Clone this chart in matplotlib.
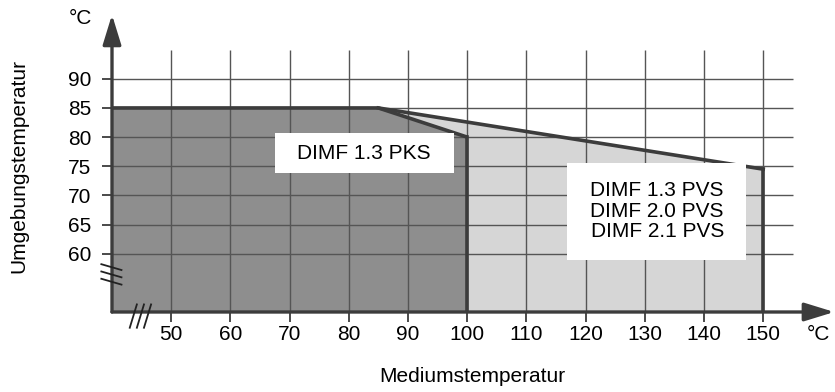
import matplotlib
matplotlib.use("Agg")
import matplotlib.pyplot as plt
from matplotlib.patches import Rectangle

plt.rcParams['font.family'] = ['Liberation Sans', 'DejaVu Sans']
plt.rcParams['font.size'] = 15

# operating limits (medium temp -> ambient temp)
pks_x = [40, 85, 100]
pks_y = [85, 85, 80]
pvs_x = [85, 150]
pvs_y = [85, 74.5]

x_ticks = [50, 60, 70, 80, 90, 100, 110, 120, 130, 140, 150]
y_ticks = [60, 65, 70, 75, 80, 85, 90]

pks_label = "DIMF 1.3 PKS"
pvs_label = "DIMF 1.3 PVS\nDIMF 2.0 PVS\nDIMF 2.1 PVS"

W, H = 835, 392
fig = plt.figure(figsize=(W / 100, H / 100), dpi=100)
# 40 -> x=112 px, 5.92 px/unit ; 50 -> y=312 px, 5.83 px/unit
x0, x1 = 40, 162
y0, y1 = 50, 101
ax = fig.add_axes([112 / W, (H - 312) / H, (x1 - x0) * 5.92 / W, (y1 - y0) * 5.83 / H])
ax.set_xlim(x0, x1)
ax.set_ylim(y0, y1)
for s in ax.spines.values():
    s.set_visible(False)

dark = '#8e8e8e'
light = '#d6d6d6'
line_c = '#3c3c3c'

# filled areas
ax.fill_between(pvs_x, pvs_y, y0, color=light, lw=0, zorder=1)
ax.fill_between(pks_x, pks_y, y0, color=dark, lw=0, zorder=2)

# grid
ax.vlines(x_ticks, y0, 95, color='#555555', lw=1.0, zorder=3)
ax.hlines(y_ticks, x0, 155, color='#555555', lw=1.0, zorder=3)

# boundary lines
ax.plot(pks_x, pks_y, color=line_c, lw=2.6, zorder=4, solid_capstyle='butt')
ax.plot([pks_x[-1], pks_x[-1]], [pks_y[-1], y0], color=line_c, lw=2.6, zorder=4)
ax.plot(pvs_x, pvs_y, color=line_c, lw=2.6, zorder=4)
ax.plot([pvs_x[-1], pvs_x[-1]], [pvs_y[-1], y0], color=line_c, lw=2.6, zorder=4)

# axes with arrows
arrow = dict(arrowstyle='-|>,head_length=1.3,head_width=0.4', color=line_c, lw=2.4,
             mutation_scale=14, shrinkA=0, shrinkB=0)
ax.annotate('', xy=(x0, y1), xytext=(x0, y0), arrowprops=arrow, zorder=6,
            annotation_clip=False)
ax.annotate('', xy=(x1, y0), xytext=(x0, y0), arrowprops=arrow, zorder=6,
            annotation_clip=False)

# axis break marks
for k in range(3):
    yb = 55.2 + k * 1.25
    ax.plot([38.2, 41.6], [yb + 0.5, yb - 0.5], color='#222222', lw=1.3,
            clip_on=False, zorder=7)
    xb = 43.6 + k * 1.2
    ax.plot([xb - 0.6, xb + 0.6], [47.3, 51.3], color='#222222', lw=1.3,
            clip_on=False, zorder=7)

# ticks
ax.set_xticks(x_ticks)
ax.set_yticks(y_ticks)
ax.tick_params(axis='x', direction='out', length=7, width=1.3, pad=2,
               color=line_c, labelsize=15)
ax.tick_params(axis='y', direction='out', length=7, width=1.3, pad=8,
               color=line_c, labelsize=15)

# label boxes
ax.add_patch(Rectangle((67.5, 73.8), 30.3, 6.9, facecolor='white', edgecolor='none', zorder=5))
ax.text(82.6, 77.2, pks_label, ha='center', va='center', fontsize=15, zorder=6)
ax.add_patch(Rectangle((116.9, 58.9), 30.2, 16.7, facecolor='white', edgecolor='none', zorder=5))
ax.text(132.1, 67.3, pvs_label, ha='center', va='center', fontsize=15,
        linespacing=1.1, zorder=6)

# unit labels and axis titles
fig.text(80 / W, 1 - 18 / H, '°C', ha='center', va='center', fontsize=15)
fig.text(818 / W, 1 - 335 / H, '°C', ha='center', va='center', fontsize=15)
fig.text(19 / W, 1 - 166 / H, 'Umgebungstemperatur', rotation=90,
         ha='center', va='center', fontsize=15)
fig.text(472 / W, 1 - 377 / H, 'Mediumstemperatur', ha='center', va='center',
         fontsize=15)

fig.savefig('out.png', dpi=100)
